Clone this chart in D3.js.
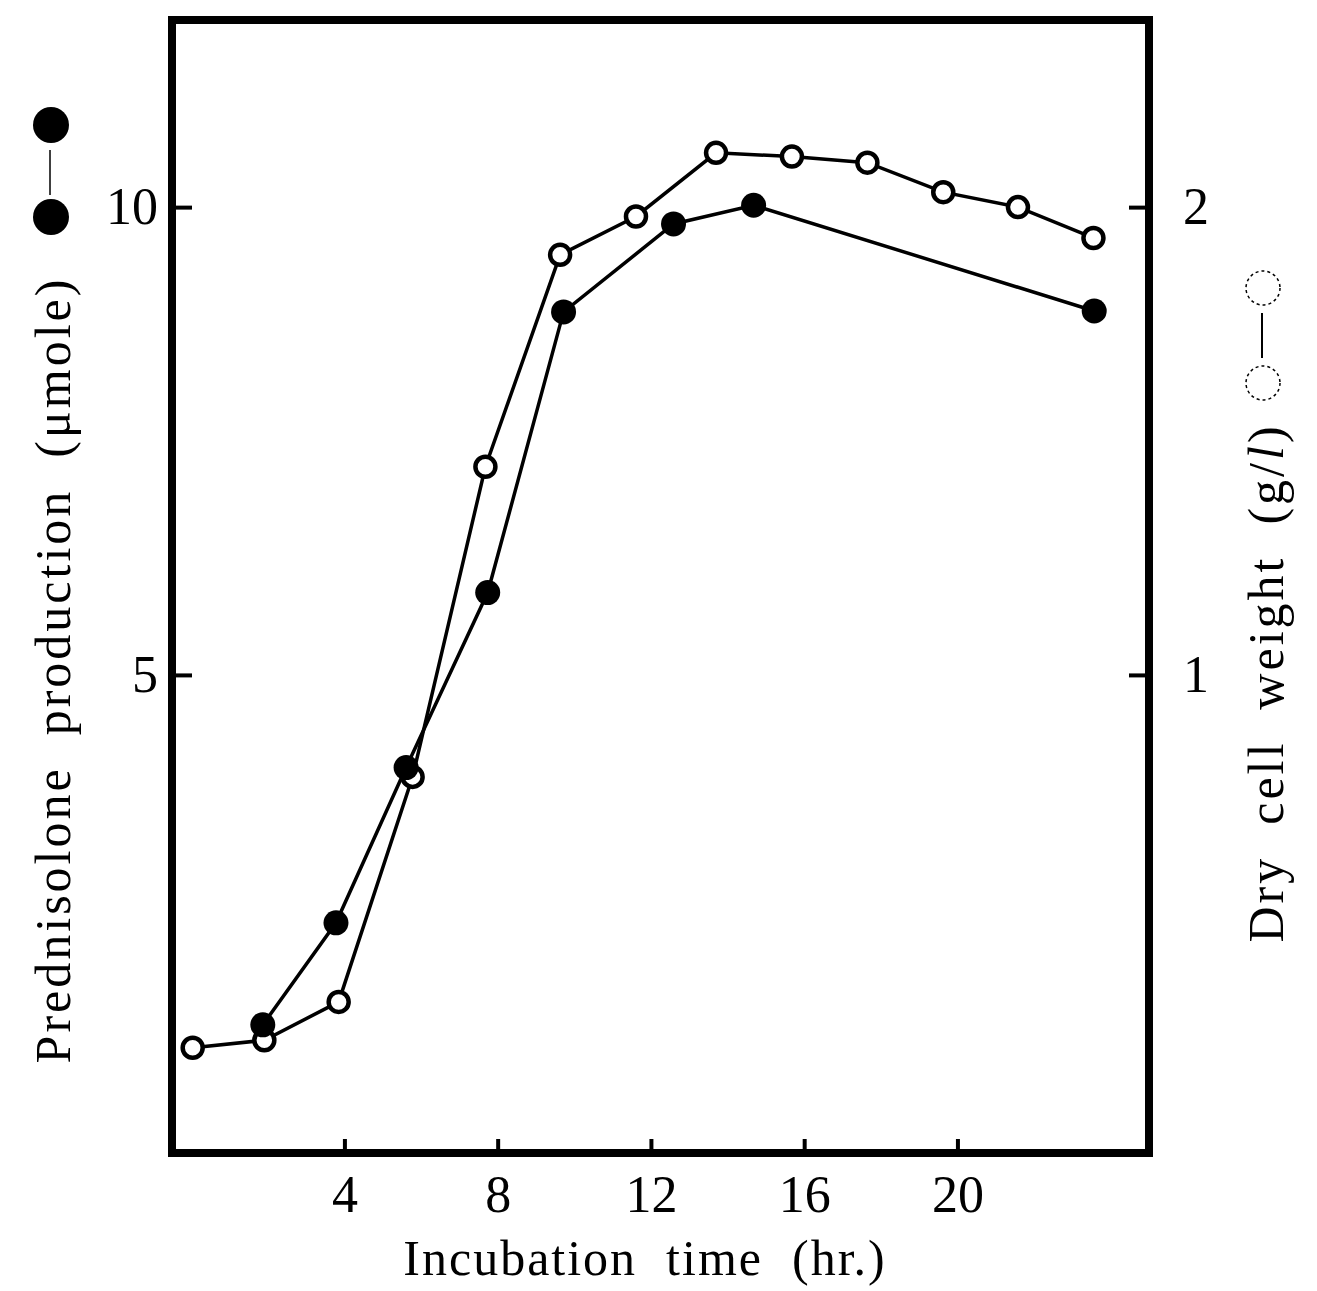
<!DOCTYPE html>
<html>
<head>
<meta charset="utf-8">
<script src="https://cdn.jsdelivr.net/npm/d3@7"></script>
<style>
  body { margin: 0; background: #fff; }
  text { font-family: "Liberation Serif", "DejaVu Serif", serif; fill: #000; }
</style>
</head>
<body>
<svg id="chart" width="1317" height="1291"></svg>
<script>
// prednisolone production (umole), filled circles, left axis
const prodHours = [1.87, 3.78, 5.61, 7.74, 9.72, 12.59, 14.68, 23.57];
const prodValues = [1.26, 2.35, 4.01, 5.88, 8.88, 9.82, 10.02, 8.89];

// dry cell weight (g/l), open circles, right axis
const cellHours = [0.04, 1.91, 3.85, 5.78, 7.68, 9.63, 11.61, 13.70, 15.68, 17.65, 19.63, 21.58, 23.55];
const cellValues = [0.203, 0.219, 0.301, 0.782, 1.445, 1.898, 1.98, 2.116, 2.108, 2.095, 2.032, 2.0, 1.934];

const xTicks = [4, 8, 12, 16, 20];
const leftTicks = [5, 10];
const rightTicks = [1, 2];

const svg = d3.select('#chart');

const plotLeft = 172, plotRight = 1149, plotTop = 20, plotBottom = 1153;

const x = d3.scaleLinear().domain([-0.5, 25]).range([plotLeft, plotRight]);
const yL = d3.scaleLinear().domain([-0.11, 12.0]).range([plotBottom, plotTop]);
const yR = d3.scaleLinear().domain([-0.022, 2.4]).range([plotBottom, plotTop]);

const fontSize = 52;

// axes: inward ticks, frame drawn separately
const gx = svg.append('g')
  .attr('transform', `translate(0,${plotBottom})`)
  .call(d3.axisBottom(x).tickValues(xTicks).tickSizeInner(-14).tickSizeOuter(0).tickPadding(22));

const gl = svg.append('g')
  .attr('transform', `translate(${plotLeft},0)`)
  .call(d3.axisLeft(yL).tickValues(leftTicks).tickSizeInner(-20).tickSizeOuter(0).tickPadding(14));

const gr = svg.append('g')
  .attr('transform', `translate(${plotRight},0)`)
  .call(d3.axisRight(yR).tickValues(rightTicks).tickFormat(d3.format('d'))
    .tickSizeInner(-20).tickSizeOuter(0).tickPadding(34));

[gx, gl, gr].forEach(g => {
  g.select('.domain').remove();
  g.selectAll('.tick line').attr('stroke', '#000').attr('stroke-width', 4);
  g.selectAll('.tick text')
    .style('font-family', '"Liberation Serif", serif')
    .style('font-size', fontSize + 'px')
    .attr('fill', '#000');
});

// frame
svg.append('rect')
  .attr('x', plotLeft).attr('y', plotTop)
  .attr('width', plotRight - plotLeft).attr('height', plotBottom - plotTop)
  .attr('fill', 'none')
  .attr('stroke', '#000')
  .attr('stroke-width', 8);

// lines
const prodPts = prodHours.map((h, i) => [x(h), yL(prodValues[i])]);
const cellPts = cellHours.map((h, i) => [x(h), yR(cellValues[i])]);

const line = d3.line();

svg.append('path')
  .attr('d', line(prodPts))
  .attr('fill', 'none').attr('stroke', '#000').attr('stroke-width', 3.5);

svg.append('path')
  .attr('d', line(cellPts))
  .attr('fill', 'none').attr('stroke', '#000').attr('stroke-width', 3.5);

svg.append('g').selectAll('circle')
  .data(cellPts)
  .join('circle')
    .attr('cx', d => d[0])
    .attr('cy', d => d[1])
    .attr('r', 10)
    .attr('fill', '#fff')
    .attr('stroke', '#000')
    .attr('stroke-width', 4.5);

svg.append('g').selectAll('circle')
  .data(prodPts)
  .join('circle')
    .attr('cx', d => d[0])
    .attr('cy', d => d[1])
    .attr('r', 12.5)
    .attr('fill', '#000');

// axis titles
svg.append('text')
  .attr('x', 645)
  .attr('y', 1275)
  .attr('text-anchor', 'middle')
  .style('font-size', '50px')
  .style('letter-spacing', '2px')
  .style('white-space', 'pre')
  .text('Incubation  time  (hr.)');

svg.append('text')
  .attr('transform', 'translate(70,670) rotate(-90)')
  .attr('text-anchor', 'middle')
  .style('font-size', '50px')
  .style('letter-spacing', '3px')
  .style('white-space', 'pre')
  .text('Prednisolone  production  (μmole)');

const rt = svg.append('text')
  .attr('transform', 'translate(1283,683) rotate(-90)')
  .attr('text-anchor', 'middle')
  .style('font-size', '50px')
  .style('letter-spacing', '3px')
  .style('white-space', 'pre');
rt.append('tspan').text('Dry  cell  weight  (g/');
rt.append('tspan').style('font-style', 'italic').text('l');
rt.append('tspan').text(')');

// legend keys beside the titles
const keyL = svg.append('g');
keyL.append('line')
  .attr('x1', 50).attr('x2', 50).attr('y1', 150).attr('y2', 195)
  .attr('stroke', '#000').attr('stroke-width', 1.5);
keyL.selectAll('circle').data([125, 217]).join('circle')
  .attr('cx', 51).attr('cy', d => d).attr('r', 18).attr('fill', '#000');

const keyR = svg.append('g');
keyR.append('line')
  .attr('x1', 1262).attr('x2', 1262).attr('y1', 313).attr('y2', 358)
  .attr('stroke', '#000').attr('stroke-width', 2);
keyR.selectAll('circle').data([288, 383]).join('circle')
  .attr('cx', 1263).attr('cy', d => d).attr('r', 17)
  .attr('fill', 'none').attr('stroke', '#000')
  .attr('stroke-width', 1.5).attr('stroke-dasharray', '3,3');
</script>
</body>
</html>
